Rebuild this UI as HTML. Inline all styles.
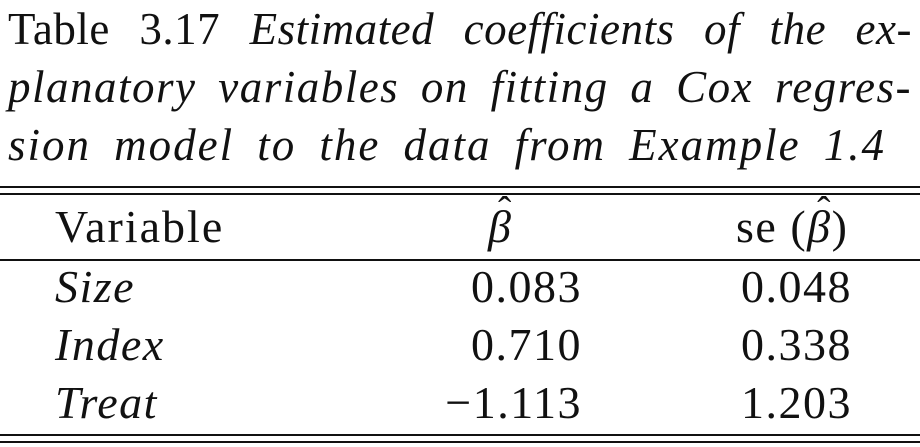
<!DOCTYPE html>
<html><head><meta charset="utf-8"><style>
html,body{margin:0;padding:0;background:#fff;}
body{width:920px;height:447px;position:relative;overflow:hidden;font-family:"Liberation Serif",serif;color:#111;}
.t{position:absolute;left:8px;width:904px;font-size:45px;line-height:50px;white-space:nowrap;text-align:justify;text-align-last:justify;}
.t i{font-style:italic;}
.r{position:absolute;left:0;width:920px;height:2px;background:#111;}
.c{position:absolute;font-size:46px;line-height:50px;white-space:nowrap;letter-spacing:1.5px;}
.num{text-align:right;}
.b{position:relative;display:inline-block;font-style:italic;}
.b .h{position:absolute;left:10px;top:-16px;font-style:normal;font-size:40px;}
</style></head><body>
<div class="t" style="top:4px;letter-spacing:0.5px">Table 3.17 <i>Estimated coefficients of the ex-</i></div>
<div class="t" style="top:62px;letter-spacing:1.5px"><i>planatory variables on fitting a Cox regres-</i></div>
<div class="t" style="top:120px;width:878px;letter-spacing:2px"><i>sion model to the data from Example 1.4</i></div>

<div class="r" style="top:186px"></div>
<div class="r" style="top:193px"></div>
<div class="r" style="top:259px"></div>
<div class="r" style="top:434px"></div>
<div class="r" style="top:441px"></div>

<div class="c" style="left:55px;top:202px;letter-spacing:2px">Variable</div>
<div class="c" style="left:488px;top:202px"><span class="b">β<span class="h">ˆ</span></span></div>
<div class="c" style="left:736px;top:202px">se (<span class="b">β<span class="h">ˆ</span></span>)</div>

<div class="c" style="left:55px;top:262px;font-style:italic">Size</div>
<div class="c num" style="right:338px;top:262px">0.083</div>
<div class="c num" style="right:68px;top:262px">0.048</div>

<div class="c" style="left:55px;top:320px;font-style:italic">Index</div>
<div class="c num" style="right:338px;top:320px">0.710</div>
<div class="c num" style="right:68px;top:320px">0.338</div>

<div class="c" style="left:55px;top:378px;font-style:italic">Treat</div>
<div class="c num" style="right:338px;top:378px">−1.113</div>
<div class="c num" style="right:68px;top:378px">1.203</div>
</body></html>
